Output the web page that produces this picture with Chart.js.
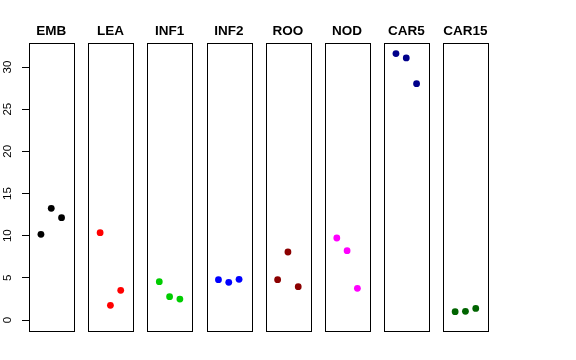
<!DOCTYPE html>
<html>
<head>
<meta charset="utf-8">
<script src="https://cdn.jsdelivr.net/npm/chart.js@4"></script>
<style>
	html, body { margin: 0; padding: 0; background: #fff; }
	#wrap { position: relative; width: 576px; height: 360px; }
	#wrap canvas { position: absolute; left: 0; top: 0; }
</style>
</head>
<body>
<div id="wrap"></div>
<script>
// panels and their three values each
const panelNames = ["EMB", "LEA", "INF1", "INF2", "ROO", "NOD", "CAR5", "CAR15"];
const panelColours = ["#000000", "#ff0000", "#00cd00", "#0000ff", "#8b0000", "#ff00ff", "#00008b", "#006400"];
const xPos = [1, 2, 3];
const emb = [10.16, 13.25, 12.14];
const lea = [10.36, 1.74, 3.52];
const inf1 = [4.55, 2.77, 2.49];
const inf2 = [4.79, 4.47, 4.83];
const roo = [4.79, 8.07, 3.95];
const nod = [9.73, 8.23, 3.76];
const car5 = [31.6, 31.08, 28.03];
const car15 = [0.99, 1.03, 1.38];
const panelValues = [emb, lea, inf1, inf2, roo, nod, car5, car15];
const yTicks = [0, 5, 10, 15, 20, 25, 30];

const W = 576, H = 360;
const firstLeft = 29;
const step = 59.17;
const panelW = 44.5;
const plotTop = 43;
const plotBottom = 331;
const yMin = -1.3, yMax = 32.85;
const fontFamily = "Liberation Sans, Arial, sans-serif";
const titleSize = 13.5;

// stroke a box round the plot area
const boxPlugin = {
	id: "box",
	afterDraw(chart) {
		const a = chart.chartArea;
		const c = chart.ctx;
		c.save();
		c.strokeStyle = "#000";
		c.lineWidth = 1;
		c.strokeRect(Math.round(a.left) + 0.5, Math.round(a.top) + 0.5,
			Math.round(a.right - a.left), Math.round(a.bottom - a.top));
		c.restore();
	},
};

const wrap = document.getElementById("wrap");

function addCanvas() {
	const canvas = document.createElement("canvas");
	canvas.width = W;
	canvas.height = H;
	canvas.style.width = W + "px";
	canvas.style.height = H + "px";
	wrap.appendChild(canvas);
	return canvas;
}

// shared y axis on the left
new Chart(addCanvas(), {
	type: "scatter",
	data: { datasets: [{ data: [] }] },
	options: {
		responsive: false,
		animation: false,
		events: [],
		layout: { padding: { left: 0, right: W - firstLeft - 1, top: plotTop, bottom: H - plotBottom } },
		plugins: { legend: { display: false }, tooltip: { enabled: false } },
		scales: {
			x: { type: "linear", display: false, min: 0, max: 1 },
			y: {
				type: "linear",
				min: yMin,
				max: yMax,
				afterFit: (scale) => { scale.width = firstLeft; },
				afterBuildTicks: (scale) => { scale.ticks = yTicks.map((v) => ({ value: v })); },
				grid: { drawOnChartArea: false, tickLength: 7, color: "#000" },
				border: { display: false },
				ticks: {
					color: "#000",
					minRotation: 90,
					maxRotation: 90,
					crossAlign: "center",
					padding: 8,
					font: { family: fontFamily, size: 11.5 },
				},
			},
		},
	},
});

panelNames.forEach((name, i) => {
	const left = firstLeft + step * i;

	new Chart(addCanvas(), {
		type: "scatter",
		data: {
			datasets: [{
				data: xPos.map((x, j) => ({ x: x, y: panelValues[i][j] })),
				backgroundColor: panelColours[i],
				borderColor: panelColours[i],
				pointRadius: 3.4,
				borderWidth: 0,
			}],
		},
		options: {
			responsive: false,
			animation: false,
			events: [],
			layout: {
				padding: { left: left, right: W - left - panelW, top: 0, bottom: H - plotBottom },
			},
			plugins: {
				legend: { display: false },
				tooltip: { enabled: false },
				title: {
					display: true,
					text: name,
					color: "#000",
					font: { family: fontFamily, size: titleSize, weight: "bold" },
					padding: { top: 23, bottom: plotTop - 23 - titleSize * 1.2 },
				},
			},
			scales: {
				x: { type: "linear", display: false, min: -0.16, max: 4.16 },
				y: { type: "linear", display: false, min: yMin, max: yMax },
			},
		},
		plugins: [boxPlugin],
	});
});
</script>
</body>
</html>
